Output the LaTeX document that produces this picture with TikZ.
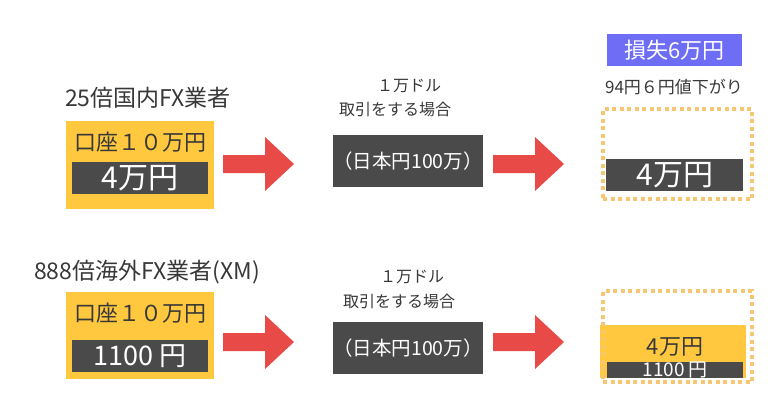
\documentclass[tikz,border=0pt]{standalone}
\usepackage{fontspec}
\setmainfont{Noto Sans CJK JP}
\usepackage{xcolor}
\usepackage{tikz}
\usetikzlibrary{positioning, calc}
\definecolor{acctyellow}{HTML}{FFC83E}
\definecolor{cashgrey}{HTML}{4A4A4A}
\definecolor{arrowred}{HTML}{E84B47}
\definecolor{lossblue}{HTML}{6D6DF5}
\definecolor{dotorange}{HTML}{F6C672}
\definecolor{inkgrey}{HTML}{383838}
\newcommand{\fsz}[1]{\fontsize{#1}{#1}\selectfont}

\tikzset{
  yellowbox/.style={fill=acctyellow, inner sep=0pt, anchor=north west},
  cashbox/.style={fill=cashgrey, text=white, inner sep=0pt, anchor=north west},
  lossbox/.style={draw=dotorange, line width=4pt, dash pattern=on 4pt off 3.5pt, inner sep=0pt, anchor=north west},
  label/.style={text=inkgrey, inner sep=0pt},
  bigarrow/.pic={\fill[arrowred] (-35,-9) -- (7,-9) -- (7,-27) -- (36,0) -- (7,27) -- (7,9) -- (-35,9) -- cycle;}
}

\begin{document}
\begin{tikzpicture}[x=1pt, y=-1pt]
\useasboundingbox (0,0) rectangle (781,415);

% top row: 25x domestic broker
\node[label, font=\fsz{23}] (domtitle) at (148,98) {25倍国内FX業者};
\node[yellowbox, minimum width=148pt, minimum height=88pt] (domacct) at (66,121) {};
\node[label, font=\fsz{22}] (domacctlbl) at (140,142) {口座１０万円};
\node[cashbox, minimum width=136pt, minimum height=32pt, font=\fsz{30}] (domcash) at (72,162) {4万円};
\pic at (258,164) {bigarrow};
\node[label, font=\fsz{16}] (domusd) at (409,86) {１万ドル};
\node[label, font=\fsz{16}] (domtrade) at (395,109) {取引をする場合};
\node[cashbox, minimum width=136pt, minimum height=52pt, font=\fsz{19.5}] (domyen) at (333,135) {（日本円100万）};
\pic at (528,164) {bigarrow};
\node[fill=lossblue, text=white, inner sep=0pt, minimum width=135pt, minimum height=32pt, anchor=north west, font=\fsz{22}] (loss) at (607,34) {損失6万円};
\node[label, font=\fsz{17}] (drop) at (674,87) {94円６円値下がり};
\node[cashbox, minimum width=137pt, minimum height=32pt, font=\fsz{30}] (domleft) at (606,159) {4万円};
\node[lossbox, minimum width=149pt, minimum height=90pt] (domframe) at (601,107) {};

% bottom row: 888x overseas broker
\node[label, font=\fsz{23}] (xmtitle) at (147,272) {888倍海外FX業者(XM)};
\node[yellowbox, minimum width=148pt, minimum height=87pt] (xmacct) at (66,292) {};
\node[label, font=\fsz{22}] (xmacctlbl) at (140,313) {口座１０万円};
\node[cashbox, minimum width=136pt, minimum height=32pt, font=\fsz{27}] (xmcash) at (72,340) {1100 円};
\pic at (258,342) {bigarrow};
\node[label, font=\fsz{16}] (xmusd) at (412,277) {１万ドル};
\node[label, font=\fsz{16}] (xmtrade) at (399,301) {取引をする場合};
\node[cashbox, minimum width=136pt, minimum height=52pt, font=\fsz{19.5}] (xmyen) at (333,322) {（日本円100万）};
\pic at (528,342) {bigarrow};
\node[yellowbox, minimum width=146pt, minimum height=53pt] (xmleft) at (600,325) {};
\node[label, font=\fsz{22}] (xmleftlbl) at (675,347) {4万円};
\node[cashbox, minimum width=136pt, minimum height=16pt, font=\fsz{19}] (xmrest) at (607,362) {1100 円};
\node[lossbox, minimum width=149pt, minimum height=91pt] (xmframe) at (601,289) {};
\end{tikzpicture}
\end{document}
